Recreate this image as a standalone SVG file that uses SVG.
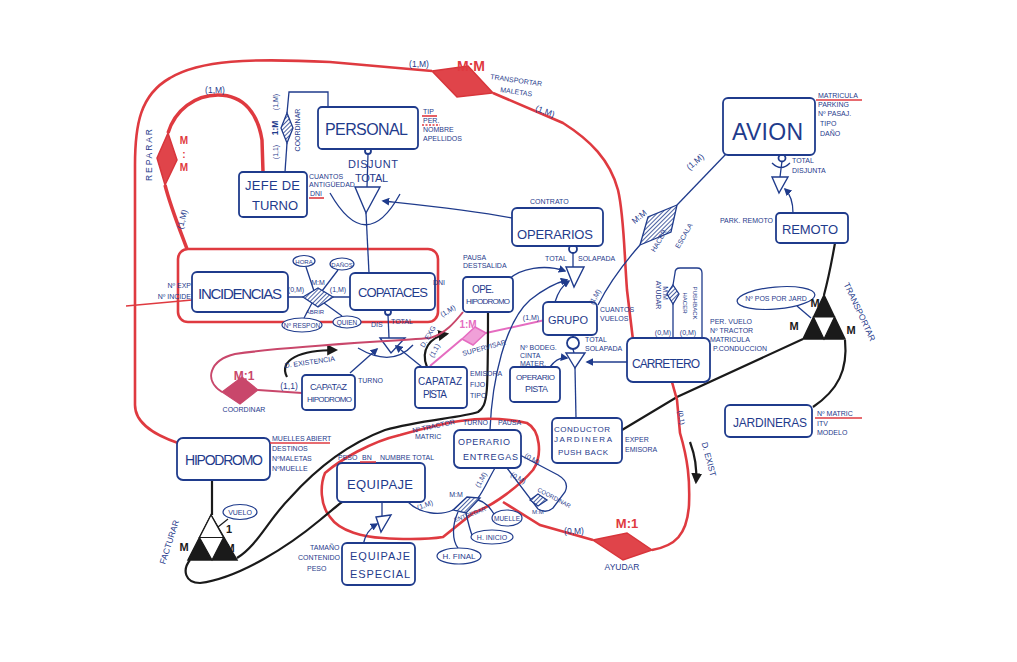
<svg xmlns="http://www.w3.org/2000/svg" width="1017" height="662" viewBox="0 0 1017 662">
<defs>
<style>
.n{fill:#fff;stroke:#1f3b8c;stroke-width:1.8}
.b{stroke:#1f3b8c;fill:none;stroke-width:1.3}
.r{stroke:#df3a40;fill:none;stroke-width:2.6}
.k{stroke:#1a1a1a;fill:none;stroke-width:2.2}
.cr{stroke:#c9476b;fill:none;stroke-width:2}
.mg{stroke:#e56cc0;fill:none;stroke-width:2}
.t{font-family:"Liberation Sans",Arial,sans-serif;fill:#1f3b8c}
.a{font-size:7px}
.m{font-size:8.5px}
.rt{font-family:"Liberation Sans",Arial,sans-serif;fill:#df3a40;font-weight:bold}
.kt{font-family:"Liberation Sans",Arial,sans-serif;fill:#1a1a1a;font-weight:bold}
.hb{fill:url(#hatchB);stroke:#1f3b8c;stroke-width:1.3}
.rd{fill:#e0444a;stroke:#d8353b;stroke-width:1.5}
.ru{stroke:#df3a40;stroke-width:1.6;fill:none}
</style>
<pattern id="hatchB" patternUnits="userSpaceOnUse" width="3" height="3" patternTransform="rotate(45)">
<rect width="3" height="3" fill="#fff"/><line x1="0" y1="0" x2="0" y2="3" stroke="#1f3b8c" stroke-width="1.6"/>
</pattern>
<marker id="ab" viewBox="0 0 10 10" refX="8" refY="5" markerWidth="6" markerHeight="6" orient="auto"><path d="M0,0 L10,5 L0,10 Z" fill="#1f3b8c"/></marker>
<marker id="ak" viewBox="0 0 10 10" refX="8" refY="5" markerWidth="5" markerHeight="5" orient="auto"><path d="M0,0 L10,5 L0,10 Z" fill="#1a1a1a"/></marker>
</defs>
<rect width="1017" height="662" fill="#fff"/>

<g id="connectors">
<path class="r" d="M432,71 L330,62 C250,58 200,60 170,78 C140,95 135,125 135,165 L135,405 C135,425 158,436 178,443"/>
<path class="r" d="M493,93 L563,123 C590,140 610,160 618,190 C624,215 624,250 627,290 L633,340"/>
<polygon class="rd" points="432,71 468,66 493,93 457,97"/>
<path class="r" style="stroke-width:3.5" d="M168,133 C175,110 195,95 218,95 C245,95 258,115 262,140 L263,172"/>
<path class="r" style="stroke-width:3.5" d="M165,185 C170,205 178,225 187,249"/>
<polygon class="rd" points="157,158 168,133 177,160 165,185"/>
<rect class="r" x="178" y="249" width="260" height="73" rx="10"/>
<path class="ru" d="M126,306 L192,300"/>
<path class="b" d="M285,172 L287,143"/>
<path class="b" d="M287,113 L289,92 L328,92 L328,107"/>
<polygon class="hb" points="287,113 293,128 287,143 281,128"/>
<circle cx="368" cy="151" r="3" class="n"/>
<path class="b" d="M368,154 L367,187"/>
<polygon points="355,187 380,187 366,213" fill="#fff" stroke="#1f3b8c" stroke-width="1.4"/>
<path class="b" d="M330,193 Q366,256 400,194"/>
<path class="b" d="M366,213 L369,273"/>
<path class="b" d="M512,218 C470,210 420,205 383,201" marker-end="url(#ab)"/>
<path class="b" d="M288,297 L303,297 M333,297 L350,297"/>
<path class="b" d="M314,291 L306,267 M322,291 L338,270 M312,303 L304,318 M324,303 L342,316"/>
<polygon class="hb" points="303,297 318,288 333,297 318,307"/>
<circle cx="388" cy="312" r="3" class="n"/>
<path class="b" d="M388,315 L389,338"/>
<polygon points="380,338 405,338 391,353" fill="#fff" stroke="#1f3b8c" stroke-width="1.4"/>
<path class="b" d="M358,348 Q392,368 413,345"/>
<path class="b" d="M350,373 L377,349" marker-end="url(#ab)"/>
<path class="b" d="M422,367 L396,346" marker-end="url(#ab)"/>
<path class="k" d="M287,377 C278,360 300,350 336,350" marker-end="url(#ak)"/>
<path class="k" d="M427,367 C420,350 430,337 447,334" marker-end="url(#ak)"/>
<path class="cr" d="M258,390 L302,393"/>
<path class="cr" d="M222,392 C203,380 210,360 235,354 C290,346 380,342 430,338 C445,334 455,322 463,312"/>
<polygon points="222,392 242,377 258,390 240,404" fill="#c9476b" stroke="#c9476b" stroke-width="1.2"/>
<path class="mg" d="M430,366 L462,339 M486,333 L545,320"/>
<polygon points="462,339 475,327 486,333 473,345" fill="#f0a0d8" stroke="#e56cc0" stroke-width="1.5"/>
<path class="b" d="M573,246 L573,267"/>
<circle cx="573" cy="249" r="4" class="n"/>
<polygon points="566,267 584,267 574,287" fill="#fff" stroke="#1f3b8c" stroke-width="1.4"/>
<path class="b" d="M508,280 C520,268 545,264 565,271" marker-end="url(#ab)"/>
<path class="b" d="M555,302 C558,292 563,285 569,281" marker-end="url(#ab)"/>
<path class="b" d="M490,430 C492,380 505,322 530,300 C545,288 555,283 567,280" marker-end="url(#ab)"/>
<path class="b" d="M677,205 L726,154"/>
<path class="b" d="M640,245 C625,262 608,285 598,305"/>
<polygon class="hb" points="677,205 648,217 640,245 671,232"/>
<path class="b" d="M573,335 L573,337"/>
<circle cx="573" cy="343" r="6" class="n"/>
<path class="b" d="M573,349 L574,353"/>
<polygon points="566,353 585,353 575,368" fill="#fff" stroke="#1f3b8c" stroke-width="1.4"/>
<path class="b" d="M627,362 L587,362" marker-end="url(#ab)"/>
<path class="b" d="M550,367 C555,360 560,357 567,358" marker-end="url(#ab)"/>
<path class="b" d="M575,368 L576,418"/>
<path class="b" d="M673,338 L673,304 M673,285 L675,273 Q675,268 680,268 L697,268 Q702,268 702,273 L702,338"/>
<polygon class="hb" points="673,285 679,294 673,304 667,294"/>
<circle cx="782" cy="158" r="3.5" class="n"/>
<path class="b" d="M782,161 L780,177 M772,163 Q781,172 790,163"/>
<polygon points="772,177 788,177 779,193" fill="#fff" stroke="#1f3b8c" stroke-width="1.4"/>
<path class="b" d="M793,213 C793,200 790,194 785,189" marker-end="url(#ab)"/>
<path class="k" d="M835,243 C832,260 828,280 824,295"/>
<path class="k" d="M803,339 L677,397 L622,430"/>
<path class="k" d="M845,340 C848,370 838,390 813,407"/>
<polygon points="824,295 803,339 845,339" fill="#1a1a1a" stroke="#1a1a1a" stroke-width="1.5"/>
<polygon points="813.5,317 834.5,317 824,339" fill="#fff" stroke="#1a1a1a" stroke-width="1.2"/>
<path class="b" d="M797,306 L811,318"/>
<path class="r" d="M672,382 L677,400 L680,433 C688,460 690,480 689,505 C687,535 675,546 652,550"/>
<path class="k" d="M690,442 C696,458 697,470 696,482" marker-end="url(#ak)"/>
<polygon class="rd" points="593,540 627,533 652,550 623,560"/>
<path class="r" d="M593,540 L540,525 L503,502"/>
<path class="r" d="M325,473 C340,460 370,442 400,435 C425,428 445,423 460,421 C480,418 505,418 527,423 C540,430 543,455 533,470 C520,485 495,505 473,513 L443,537 C425,540 395,539 383,538 C365,537 340,532 330,517 C320,505 320,485 325,473 Z"/>
<path class="b" d="M382,502 L382,516"/>
<polygon points="376,517 391,515 381,532" fill="#fff" stroke="#1f3b8c" stroke-width="1.4"/>
<path class="b" d="M363,545 C365,535 370,528 377,524" marker-end="url(#ab)"/>
<path class="b" d="M408,502 C420,514 440,516 453,510"/>
<path class="b" d="M495,468 C488,480 484,490 478,498"/>
<path class="b" d="M478,500 C486,502 490,508 494,514"/>
<path class="b" d="M466,513 C468,522 470,530 472,535"/>
<path class="b" d="M458,512 C452,525 452,540 458,548"/>
<polygon class="hb" points="453,510 467,497 480,498 466,513"/>
<path class="b" d="M520,455 L558,475 Q570,482 565,492 L553,508 Q546,514 538,509 L507,468"/>
<polygon class="hb" points="530,500 538,494 547,500 538,506"/>
<path class="k" d="M212,480 L212,515"/>
<polygon points="211,515 188,560 237,560" fill="#1a1a1a" stroke="#1a1a1a" stroke-width="1.5"/>
<polygon points="211,515 199.5,537.5 223.5,537.5" fill="#fff" stroke="#1a1a1a" stroke-width="1.2"/>
<polygon points="199.5,537.5 223.5,537.5 212,560" fill="#fff" stroke="#1a1a1a" stroke-width="1.2"/>
<path class="k" style="stroke-width:1.2" d="M228,519 L218,527"/>
<path class="k" d="M237,558 C258,545 268,520 290,498 C315,470 345,445 385,430 C420,420 460,418 478,412 C488,405 488,395 488,312"/>
<path class="k" d="M190,560 C182,570 185,583 200,583 C240,578 290,545 320,520 C332,510 338,505 342,502"/>
</g>

<g id="personal"><rect class="n" x="318" y="107" width="100" height="42" rx="4"/><text class="t" x="325" y="135" font-size="16" textLength="83">PERSONAL</text>
<text class="t a" x="423" y="114">TIP</text><text class="t a" x="423" y="123">PER.</text><text class="t a" x="423" y="132">NOMBRE</text><text class="t a" x="423" y="141">APELLIDOS</text>
<path class="ru" d="M422,116 L437,116"/><path class="ru" stroke-dasharray="2,1.5" d="M422,125 L440,125"/></g>
<g id="jefe"><rect class="n" x="239" y="172" width="68" height="45" rx="4"/><text class="t" x="245" y="190" font-size="13" textLength="55">JEFE DE</text><text class="t" x="252" y="210" font-size="13" textLength="46">TURNO</text>
<text class="t a" x="309" y="179" font-size="6">CUANTOS</text><text class="t a" x="309" y="187" font-size="6">ANTIGÜEDAD</text><text class="t a" x="310" y="196">DNI</text><path class="ru" d="M309,198 L324,198"/></g>
<g id="avion"><rect class="n" x="723" y="98" width="92" height="57" rx="5"/><text class="t" x="732" y="140" font-size="23" textLength="71">AVION</text>
<text class="t a" x="818" y="98">MATRICULA</text><path class="ru" d="M816,100 L862,100"/><text class="t a" x="818" y="107">PARKING</text><text class="t a" x="818" y="116">Nº PASAJ.</text><text class="t a" x="820" y="126">TIPO</text><text class="t a" x="820" y="136">DAÑO</text>
<text class="t a" x="792" y="163">TOTAL</text><text class="t a" x="792" y="173">DISJUNTA</text></g>
<g id="remoto"><rect class="n" x="776" y="213" width="72" height="30" rx="4"/><text class="t" x="782" y="234" font-size="13" textLength="56">REMOTO</text><text class="t a" x="773" y="223" text-anchor="end">PARK. REMOTO</text></g>
<g id="operarios"><rect class="n" x="512" y="208" width="91" height="38" rx="5"/><text class="t" x="517" y="239" font-size="13" textLength="76">OPERARIOS</text><text class="t a" x="530" y="204">CONTRATO</text>
<text class="t a" x="545" y="261">TOTAL</text><text class="t a" x="578" y="261">SOLAPADA</text></g>
<g id="incidencias"><rect class="n" x="192" y="272" width="96" height="40" rx="5"/><text class="t" x="198" y="299" font-size="15" textLength="84">INCIDENCIAS</text>
<text class="t a" x="191" y="288" text-anchor="end">Nº EXP</text><text class="t a" x="191" y="299" text-anchor="end">Nº INCIDE</text></g>
<g id="copataces"><rect class="n" x="350" y="273" width="85" height="37" rx="5"/><text class="t" x="358" y="297" font-size="13" textLength="70">COPATACES</text><text class="t a" x="433" y="285">DNI</text>
<text class="t a" x="371" y="327">DIS</text><text class="t a" x="391" y="324">TOTAL</text></g>
<g id="abrir-attrs">
<ellipse class="n" cx="304" cy="261" rx="11" ry="5.5" style="stroke-width:1.2"/><text class="t" x="304" y="263.5" font-size="6" text-anchor="middle">HORA</text>
<ellipse class="n" cx="342" cy="264" rx="12" ry="6" style="stroke-width:1.2"/><text class="t" x="342" y="266.5" font-size="6" text-anchor="middle">DAÑOS</text>
<ellipse class="n" cx="302" cy="325" rx="20" ry="7" style="stroke-width:1.2"/><text class="t" x="302" y="327.5" font-size="6.5" text-anchor="middle">Nº RESPON</text>
<ellipse class="n" cx="347" cy="322" rx="14" ry="6" style="stroke-width:1.2"/><text class="t" x="347" y="324.5" font-size="6.5" text-anchor="middle">QUIEN</text>
<text class="t a" x="318" y="285" text-anchor="middle">M:M</text><text class="t a" x="296" y="292" text-anchor="middle">(0,M)</text><text class="t a" x="338" y="292" text-anchor="middle">(1,M)</text><text class="t" x="315" y="314" font-size="6" text-anchor="middle">ABRIR</text></g>
<g id="opehip"><rect class="n" x="463" y="277" width="50" height="35" rx="4"/><text class="t" x="472" y="293" font-size="10" textLength="22">OPE.</text><text class="t" x="466" y="304" font-size="8" textLength="44">HIPODROMO</text>
<text class="t a" x="463" y="260" font-size="6">PAUSA</text><text class="t a" x="463" y="268" font-size="6">DESTSALIDA</text></g>
<g id="grupo"><rect class="n" x="543" y="302" width="54" height="33" rx="5"/><text class="t" x="548" y="324" font-size="11" textLength="40">GRUPO</text>
<text class="t a" x="600" y="312">CUANTOS</text><text class="t a" x="600" y="321">VUELOS</text>
<text class="t a" x="585" y="342">TOTAL</text><text class="t a" x="585" y="351">SOLAPADA</text></g>
<g id="carretero"><rect class="n" x="627" y="338" width="83" height="44" rx="6"/><text class="t" x="632" y="368" font-size="12" textLength="68">CARRETERO</text>
<text class="t a" x="710" y="324">PER. VUELO</text><text class="t a" x="710" y="333">Nº TRACTOR</text><text class="t a" x="710" y="342">MATRICULA</text><text class="t a" x="713" y="351">P.CONDUCCION</text>
<text class="t a" x="656" y="295" transform="rotate(90 656 295)" text-anchor="middle">AYUDAR</text><text class="t a" x="663" y="293" transform="rotate(90 663 293)" text-anchor="middle">M:M</text>
<text class="t" font-size="6" x="683" y="303" transform="rotate(90 683 303)" text-anchor="middle">HACER</text><text class="t" font-size="6" x="693" y="303" transform="rotate(90 693 303)" text-anchor="middle">PUSHBACK</text>
<text class="t a" x="663" y="335" text-anchor="middle">(0,M)</text><text class="t a" x="688" y="335" text-anchor="middle">(0,M)</text></g>
<g id="capataz-hip"><rect class="n" x="302" y="375" width="53" height="35" rx="4"/><text class="t" x="310" y="390" font-size="9" textLength="37">CAPATAZ</text><text class="t" x="307" y="402" font-size="8" textLength="45">HIPODROMO</text><text class="t a" x="358" y="383">TURNO</text></g>
<g id="capataz-pista"><rect class="n" x="415" y="367" width="52" height="41" rx="4"/><text class="t" x="418" y="385" font-size="10" textLength="44">CAPATAZ</text><text class="t" x="423" y="398" font-size="10" textLength="24">PISTA</text>
<text class="t a" x="470" y="376">EMISORA</text><text class="t a" x="470" y="387">FIJO</text><text class="t a" x="470" y="398">TIPO</text></g>
<g id="operario-pista"><rect class="n" x="510" y="367" width="50" height="35" rx="4"/><text class="t" x="516" y="380" font-size="8" textLength="39">OPERARIO</text><text class="t" x="525" y="392" font-size="9" textLength="23">PISTA</text>
<text class="t a" x="520" y="350" font-size="6.5">Nº BODEG.</text><text class="t a" x="520" y="358" font-size="6.5">CINTA</text><text class="t a" x="520" y="366" font-size="6.5">MATER.</text></g>
<g id="conductor"><rect class="n" x="552" y="418" width="70" height="45" rx="5"/><text class="t" x="554" y="432" font-size="8" textLength="56">CONDUCTOR</text><text class="t" x="554" y="442" font-size="8" textLength="58">JARDINERA</text><text class="t" x="558" y="455" font-size="8" textLength="50">PUSH BACK</text>
<text class="t a" x="625" y="442">EXPER</text><text class="t a" x="625" y="452">EMISORA</text></g>
<g id="jardineras"><rect class="n" x="725" y="405" width="87" height="32" rx="5"/><text class="t" x="733" y="427" font-size="12" textLength="74">JARDINERAS</text>
<text class="t a" x="817" y="416">Nº MATRIC</text><path class="ru" d="M815,418 L862,418"/><text class="t a" x="817" y="426">ITV</text><text class="t a" x="817" y="435">MODELO</text></g>
<g id="hipodromo"><rect class="n" x="177" y="438" width="93" height="42" rx="6"/><text class="t" x="185" y="465" font-size="14" textLength="78">HIPODROMO</text>
<text class="t a" x="272" y="441">MUELLES ABIERT</text><path class="ru" d="M270,443 L330,443"/><text class="t a" x="272" y="451">DESTINOS</text><text class="t a" x="272" y="461">NºMALETAS</text><text class="t a" x="272" y="471">NºMUELLE</text></g>
<g id="equipaje"><rect class="n" x="337" y="463" width="88" height="39" rx="5"/><text class="t" x="347" y="489" font-size="13" textLength="66">EQUIPAJE</text>
<text class="t a" x="338" y="460">PESO</text><text class="t a" x="362" y="460">BN</text><path class="ru" d="M360,462 L376,462"/><text class="t a" x="380" y="460">NUMBRE TOTAL</text></g>
<g id="equipaje-especial"><rect class="n" x="342" y="543" width="73" height="42" rx="5"/><text class="t" x="350" y="560" font-size="11" textLength="60">EQUIPAJE</text><text class="t" x="350" y="578" font-size="11" textLength="60">ESPECIAL</text>
<text class="t a" x="310" y="550">TAMAÑO</text><text class="t a" x="298" y="560">CONTENIDO</text><text class="t a" x="307" y="571">PESO</text></g>
<g id="operario-entregas"><rect class="n" x="454" y="430" width="67" height="38" rx="6"/><text class="t" x="458" y="445" font-size="9" textLength="52">OPERARIO</text><text class="t" x="463" y="460" font-size="9" textLength="55">ENTREGAS</text>
<text class="t a" x="413" y="433" transform="rotate(-12 413 433)">Nº TRACTOR</text><text class="t a" x="415" y="439">MATRIC</text><text class="t a" x="463" y="425">TURNO</text><text class="t a" x="498" y="425">PAUSA</text>
<text class="t a" x="524" y="457" transform="rotate(30 524 457)">(0,M)</text><text class="t a" x="510" y="476" transform="rotate(30 510 476)">(0,M)</text>
<text class="t" font-size="6" x="537" y="491" transform="rotate(28 537 491)">COORDINAR</text><text class="t" font-size="6" x="532" y="514">M:M</text></g>
<g id="entregar-attrs">
<ellipse class="n" cx="507" cy="518" rx="15" ry="8" style="stroke-width:1.2"/><text class="t" x="507" y="520.5" font-size="6.5" text-anchor="middle">MUELLE</text>
<ellipse class="n" cx="492" cy="537" rx="21" ry="7" style="stroke-width:1.2"/><text class="t" x="492" y="539.5" font-size="7" text-anchor="middle">H. INICIO</text>
<ellipse class="n" cx="459" cy="556" rx="22" ry="8" style="stroke-width:1.2"/><text class="t" x="459" y="559" font-size="8" text-anchor="middle">H. FINAL</text>
<text class="t a" x="456" y="497" text-anchor="middle">M:M</text><text class="t" font-size="6" x="455" y="522" transform="rotate(-20 455 522)">ENTREGAR</text>
<text class="t a" x="418" y="510" transform="rotate(-20 418 510)">(1,M)</text><text class="t a" x="479" y="488" transform="rotate(-60 479 488)">(1,M)</text></g>

<g id="labels">
<text class="rt" x="471" y="71" font-size="14" text-anchor="middle">M:M</text>
<text class="t a" x="490" y="79" transform="rotate(8 490 79)">TRANSPORTAR</text><text class="t a" x="500" y="92" transform="rotate(8 500 92)">MALETAS</text>
<text class="t m" x="419" y="67" text-anchor="middle">(1,M)</text><text class="t m" x="544" y="114" text-anchor="middle" transform="rotate(20 544 114)">(1,M)</text>
<text class="t m" x="152" y="155" text-anchor="middle" transform="rotate(-90 152 155)" font-size="9" textLength="52">REPARAR</text>
<text class="rt" x="184" y="144" font-size="10" text-anchor="middle">M</text><text class="rt" x="184" y="158" font-size="10" text-anchor="middle">:</text><text class="rt" x="184" y="171" font-size="10" text-anchor="middle">M</text>
<text class="t m" x="215" y="93" text-anchor="middle">(1,M)</text><text class="t m" x="185" y="220" text-anchor="middle" transform="rotate(-75 185 220)">(1,M)</text>
<text class="t a" x="278" y="102" text-anchor="middle" transform="rotate(-90 278 102)">(1,M)</text>
<text class="t m" x="278" y="128" text-anchor="middle" transform="rotate(-90 278 128)" font-weight="bold">1:M</text>
<text class="t a" x="278" y="152" text-anchor="middle" transform="rotate(-90 278 152)">(1,1)</text>
<text class="t a" x="300" y="130" text-anchor="middle" transform="rotate(-90 300 130)">COORDINAR</text>
<text class="t" x="348" y="168" font-size="11" textLength="50">DISJUNT</text><text class="t" x="355" y="182" font-size="11" textLength="33">TOTAL</text>
<text class="t a" x="285" y="368" transform="rotate(-8 285 368)">D. EXISTENCIA</text>
<text x="244" y="380" font-size="12" text-anchor="middle" style="font-family:'Liberation Sans',sans-serif;fill:#c9476b;font-weight:bold">M:1</text>
<text class="t a" x="244" y="412" text-anchor="middle">COORDINAR</text><text class="t m" x="289" y="389" text-anchor="middle">(1,1)</text>
<text x="468" y="328" font-size="10" text-anchor="middle" style="font-family:'Liberation Sans',sans-serif;fill:#e56cc0;font-weight:bold">1:M</text>
<text class="t a" x="463" y="356" transform="rotate(-15 463 356)">SUPERVISAR</text>
<text class="t a" x="433" y="358" transform="rotate(-60 433 358)">(1,1)</text><text class="t a" x="424" y="348" transform="rotate(-60 424 348)">D. EXG</text>
<text class="t a" x="449" y="313" text-anchor="middle" transform="rotate(-30 449 313)">(1,M)</text><text class="t a" x="531" y="320" text-anchor="middle">(1,M)</text>
<text class="t a" x="597" y="298" text-anchor="middle" transform="rotate(-60 597 298)">(1,M)</text>
<text class="t m" x="697" y="164" text-anchor="middle" transform="rotate(-40 697 164)">(1,M)</text>
<text class="t m" x="641" y="219" text-anchor="middle" transform="rotate(-40 641 219)">M:M</text>
<text class="t a" x="661" y="242" text-anchor="middle" transform="rotate(-60 661 242)">HACER</text><text class="t a" x="686" y="237" text-anchor="middle" transform="rotate(-60 686 237)">ESCALA</text>
<ellipse cx="776" cy="298" rx="39" ry="11" fill="#fff" stroke="#1f3b8c" stroke-width="1.2" transform="rotate(-5 776 298)"/><text class="t a" x="776" y="301" text-anchor="middle">Nº POS POR JARD</text>
<text class="kt" x="815" y="307" font-size="11" text-anchor="middle">M</text><text class="kt" x="794" y="330" font-size="11" text-anchor="middle">M</text><text class="kt" x="851" y="334" font-size="11" text-anchor="middle">M</text>
<text class="t m" x="857" y="313" text-anchor="middle" transform="rotate(65 857 313)">TRANSPORTAR</text>
<text class="t a" x="679" y="418" text-anchor="middle" transform="rotate(80 679 418)">(0,1)</text>
<text class="t m" x="706" y="460" text-anchor="middle" transform="rotate(75 706 460)">D. EXIST</text>
<text class="rt" x="627" y="528" font-size="13" text-anchor="middle">M:1</text>
<text class="t m" x="622" y="570" text-anchor="middle">AYUDAR</text><text class="t m" x="574" y="534" text-anchor="middle">(0,M)</text>
<ellipse cx="240" cy="512" rx="17" ry="7.5" fill="#fff" stroke="#1f3b8c" stroke-width="1.2"/><text class="t a" x="240" y="515" text-anchor="middle">VUELO</text>
<text class="kt" x="184" y="551" font-size="11" text-anchor="middle">M</text><text class="kt" x="230" y="552" font-size="11" text-anchor="middle">M</text><text class="kt" x="229" y="533" font-size="11" text-anchor="middle">1</text>
<text class="t m" x="172" y="543" text-anchor="middle" transform="rotate(-72 172 543)">FACTURAR</text>
</g>
</svg>
